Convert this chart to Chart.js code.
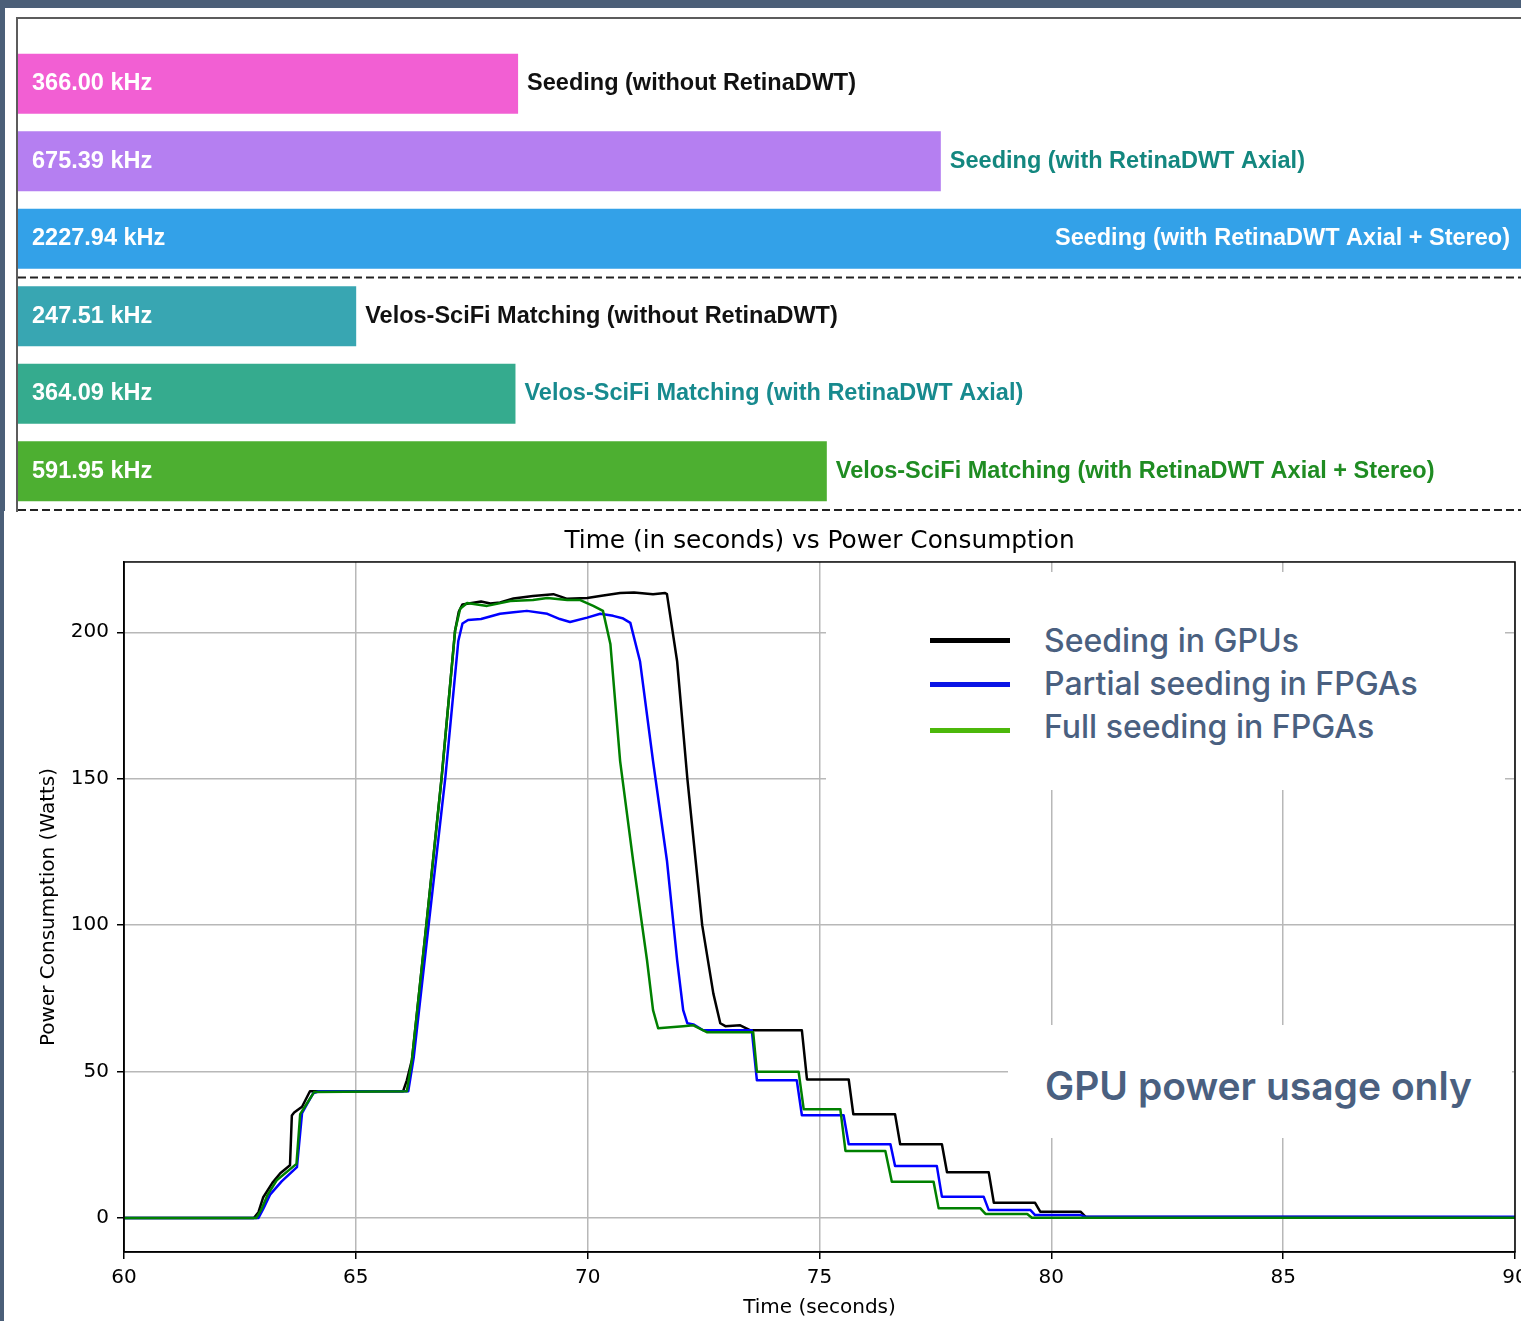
<!DOCTYPE html>
<html>
<head>
    <title>Seeding throughput and GPU power</title>
    <script src="https://cdn.jsdelivr.net/npm/chart.js"></script>
    <style>
        body {
            margin: 0;
            width: 1521px;
            height: 1321px;
            background: #4b5f78;
            position: relative;
            overflow: hidden;
        }
        .panel {
            position: absolute;
            background: #ffffff;
        }
        #top-frame {
            position: absolute;
            left: 16px;
            top: 17px;
            width: 1505px;
            height: 495px;
            border-top: 2px solid #5c5c5c;
            border-left: 2px solid #5c5c5c;
            box-sizing: border-box;
        }
        #rates {
            position: absolute;
            left: 18px;
            top: 19px;
        }
        #power {
            position: absolute;
            left: 4px;
            top: 512px;
        }
        .cover {
            position: absolute;
            background: #ffffff;
            font-family: Inter, "Open Sans", sans-serif;
            color: #4a6080;
        }
        .swatch {
            position: absolute;
            left: 104px;
            width: 80px;
            height: 5px;
        }
        .entry {
            position: absolute;
            left: 218px;
            font-size: 32px;
            line-height: 32px;
            font-weight: 500;
            white-space: nowrap;
        }
        #note {
            position: absolute;
            left: 37px;
            top: 41px;
            font-size: 39px;
            line-height: 39px;
            font-weight: 600;
            white-space: nowrap;
        }
    </style>
</head>
<body>
    <div class="panel" style="left:5px; top:8px; width:1516px; height:504px;"></div>
    <div class="panel" style="left:4px; top:511px; width:1517px; height:810px;"></div>
    <div id="top-frame"></div>
    <canvas id="rates" width="1503" height="492"></canvas>
    <canvas id="power" width="1517" height="809"></canvas>

    <div class="cover" style="left:826px; top:572px; width:679px; height:218px;">
        <div class="swatch" style="top:66px; background:#000000;"></div>
        <div class="swatch" style="top:110px; background:#0a14e6;"></div>
        <div class="swatch" style="top:156px; background:#4cb80a;"></div>
        <div class="entry" style="top:53px;">Seeding in GPUs</div>
        <div class="entry" style="top:96px;">Partial seeding in FPGAs</div>
        <div class="entry" style="top:139px;">Full seeding in FPGAs</div>
    </div>
    <div class="cover" style="left:1008px; top:1025px; width:504px; height:113px;">
        <div id="note">GPU power usage only</div>
    </div>

    <script>
        // ---- top panel: event rate per configuration (kHz)
        const barLabels = [
            'Seeding (without RetinaDWT)',
            'Seeding (with RetinaDWT Axial)',
            'Seeding (with RetinaDWT Axial + Stereo)',
            'Velos-SciFi Matching (without RetinaDWT)',
            'Velos-SciFi Matching (with RetinaDWT Axial)',
            'Velos-SciFi Matching (with RetinaDWT Axial + Stereo)'
        ];
        const barValues = [366.00, 675.39, 2227.94, 247.51, 364.09, 591.95];
        const barColors = ['#f25fd3', '#b57ff1', '#33a1e8', '#38a6b2', '#35ab8e', '#4daf31'];
        const labelColors = ['#111111', '#13877f', '#ffffff', '#111111', '#178a8e', '#1f8c22'];
        const rateAxisMax = 1100;

        // ---- bottom panel: power traces [time s, watts]
        const gpuSeries = [
            [60, 0], [62.8, 0], [62.9, 2], [63.0, 7], [63.2, 12], [63.37, 15.3], [63.58, 18],
            [63.62, 35], [63.67, 36], [63.84, 38], [64.01, 43.3], [66.02, 43.3], [66.1, 47],
            [66.21, 54], [66.52, 100], [66.85, 150.4], [67.14, 200.5], [67.22, 207], [67.3, 209.5],
            [67.4, 209.7], [67.7, 210.5], [67.9, 209.8], [68.11, 210.2], [68.4, 211.5], [68.82, 212.4],
            [69.26, 213], [69.56, 211.4], [69.99, 211.7], [70.3, 212.5], [70.7, 213.4], [71.0, 213.6],
            [71.41, 213], [71.67, 213.4], [71.71, 213], [71.93, 190], [72.15, 150], [72.47, 100],
            [72.71, 76.7], [72.86, 66.5], [72.97, 65.5], [73.29, 65.8], [73.51, 64.1], [74.62, 64.1],
            [74.73, 47.3], [75.63, 47.3], [75.73, 35.4], [76.63, 35.4], [76.74, 25.2], [77.64, 25.2],
            [77.75, 15.6], [78.65, 15.6], [78.76, 5.2], [79.65, 5.2], [79.76, 2.15], [80.63, 2.15],
            [80.74, 0.4], [90, 0.3]
        ];
        const partialSeries = [
            [60, 0], [62.9, 0], [63.0, 3], [63.15, 8], [63.4, 12.5], [63.73, 17.4], [63.84, 35.8],
            [63.95, 39], [64.08, 42.6], [64.2, 43.3], [66.13, 43.3], [66.25, 55], [66.57, 100],
            [66.93, 150.4], [67.21, 197], [67.3, 203], [67.42, 204.2], [67.7, 204.5], [68.11, 206.3],
            [68.4, 206.8], [68.69, 207.3], [69.13, 206.3], [69.4, 204.5], [69.62, 203.5], [69.99, 205],
            [70.27, 206.3], [70.55, 205.6], [70.75, 204.8], [70.92, 203.2], [71.13, 190], [71.41, 156],
            [71.71, 122], [71.93, 88], [72.06, 71], [72.15, 66.5], [72.28, 66.1], [72.49, 64.1],
            [73.54, 64.1], [73.65, 47], [74.51, 47], [74.62, 35.1], [75.52, 35.1], [75.63, 25.2],
            [76.53, 25.2], [76.63, 17.8], [77.53, 17.8], [77.64, 7.3], [78.54, 7.3], [78.65, 2.7],
            [79.55, 2.7], [79.65, 1.0], [80.63, 1.0], [80.74, 0.4], [90, 0.4]
        ];
        const fullSeries = [
            [60, 0], [62.85, 0], [62.95, 2.5], [63.1, 8], [63.3, 13], [63.72, 18.5], [63.8, 35.5],
            [63.9, 38], [64.1, 43], [66.1, 43.3], [66.21, 54], [66.52, 100], [66.85, 150.4],
            [67.14, 200.5], [67.25, 208], [67.4, 210], [67.83, 209], [68.33, 210.7], [68.82, 211],
            [69.13, 211.7], [69.56, 211], [69.84, 211], [70.12, 209], [70.33, 207.3], [70.49, 196],
            [70.7, 156], [70.98, 122], [71.28, 88], [71.41, 71], [71.52, 64.8], [72.06, 65.5],
            [72.28, 65.8], [72.58, 63.4], [73.57, 63.4], [73.65, 49.9], [74.55, 49.9], [74.66, 37.1],
            [75.45, 37.1], [75.56, 22.9], [76.42, 22.9], [76.56, 12.4], [77.46, 12.4], [77.57, 3.3],
            [78.47, 3.3], [78.58, 1.4], [79.48, 1.4], [79.58, 0.1], [90, 0.1]
        ];
        const seriesNames = ['Seeding in GPUs', 'Partial seeding in FPGAs', 'Full seeding in FPGAs'];
        const timeTicks = [60, 65, 70, 75, 80, 85, 90];
        const powerTicks = [0, 50, 100, 150, 200];

        const barFont = 'bold 23.5px "Liberation Sans", Arial, sans-serif';
        const axisFont = { family: '"DejaVu Sans", sans-serif', size: 20 };

        // value text inside each bar, name after it, dashed group separators
        const barTextPlugin = {
            id: 'barText',
            afterDatasetsDraw(chart) {
                const ctx = chart.ctx;
                const area = chart.chartArea;
                const bars = chart.getDatasetMeta(0).data;
                ctx.save();
                ctx.font = barFont;
                ctx.textBaseline = 'middle';
                bars.forEach(function (bar, i) {
                    ctx.textAlign = 'left';
                    ctx.fillStyle = '#ffffff';
                    ctx.fillText(barValues[i].toFixed(2) + ' kHz', area.left + 14, bar.y);
                    const end = Math.min(bar.x, area.right);
                    const w = ctx.measureText(barLabels[i]).width;
                    if (end + 9 + w > area.right - 8) {
                        ctx.textAlign = 'right';
                        ctx.fillStyle = labelColors[i];
                        ctx.fillText(barLabels[i], area.right - 11, bar.y);
                    } else {
                        ctx.fillStyle = labelColors[i];
                        ctx.fillText(barLabels[i], end + 9, bar.y);
                    }
                });
                const step = bars[1].y - bars[0].y;
                const breaks = [(bars[2].y + bars[3].y) / 2, bars[5].y + step / 2];
                ctx.setLineDash([8, 4]);
                ctx.lineWidth = 2.2;
                ctx.strokeStyle = '#222222';
                breaks.forEach(function (y) {
                    ctx.beginPath();
                    ctx.moveTo(area.left, y);
                    ctx.lineTo(chart.width, y);
                    ctx.stroke();
                });
                ctx.restore();
            }
        };

        new Chart(document.getElementById('rates').getContext('2d'), {
            type: 'bar',
            data: {
                labels: barLabels,
                datasets: [{
                    data: barValues,
                    backgroundColor: barColors,
                    borderWidth: 0,
                    barPercentage: 1,
                    categoryPercentage: 0.774
                }]
            },
            options: {
                indexAxis: 'y',
                responsive: false,
                animation: false,
                layout: { padding: { top: 26, bottom: 1, left: 0, right: 0 } },
                plugins: { legend: { display: false }, tooltip: { enabled: false } },
                scales: {
                    x: { display: false, min: 0, max: rateAxisMax },
                    y: { display: false }
                }
            },
            plugins: [barTextPlugin]
        });

        // full box round the plot, like matplotlib spines
        const spinePlugin = {
            id: 'spines',
            afterDraw(chart) {
                const a = chart.chartArea;
                const ctx = chart.ctx;
                ctx.save();
                ctx.strokeStyle = '#000000';
                ctx.lineWidth = 1.5;
                ctx.strokeRect(a.left, a.top, a.right - a.left, a.bottom - a.top);
                ctx.restore();
            }
        };

        function toPoints(series) {
            return series.map(function (p) { return { x: p[0], y: p[1] }; });
        }

        new Chart(document.getElementById('power').getContext('2d'), {
            type: 'line',
            data: {
                datasets: [
                    { label: seriesNames[0], data: toPoints(gpuSeries), borderColor: '#000000', order: 3 },
                    { label: seriesNames[1], data: toPoints(partialSeries), borderColor: '#0000ff', order: 2 },
                    { label: seriesNames[2], data: toPoints(fullSeries), borderColor: '#008000', order: 1 }
                ]
            },
            options: {
                responsive: false,
                animation: false,
                layout: { padding: { top: 0, bottom: 0, left: 0, right: 6 } },
                elements: {
                    line: { borderWidth: 2.5, tension: 0, borderJoinStyle: 'round', borderCapStyle: 'round' },
                    point: { radius: 0 }
                },
                plugins: {
                    legend: { display: false },
                    tooltip: { enabled: false },
                    title: {
                        display: true,
                        fullSize: false,
                        text: 'Time (in seconds) vs Power Consumption',
                        color: '#000000',
                        font: { family: '"DejaVu Sans", sans-serif', size: 24.8, weight: 'normal', lineHeight: 1.2 },
                        padding: { top: 15, bottom: 5.2 }
                    }
                },
                scales: {
                    x: {
                        type: 'linear',
                        min: 60,
                        max: 90,
                        afterBuildTicks: function (s) { s.ticks = timeTicks.map(function (v) { return { value: v }; }); },
                        afterFit: function (s) { s.height = 69; s.paddingLeft = 0; s.paddingRight = 0; },
                        ticks: { color: '#000000', font: axisFont, padding: 7, maxRotation: 0 },
                        grid: { color: '#b8b8b8', lineWidth: 1.5, tickColor: '#000000', tickLength: 7, tickWidth: 1.5 },
                        border: { color: '#000000', width: 1.5 },
                        title: { display: true, text: 'Time (seconds)', color: '#000000', font: axisFont, padding: { top: 0, bottom: 1 } }
                    },
                    y: {
                        min: -11.6,
                        max: 224,
                        afterBuildTicks: function (s) { s.ticks = powerTicks.map(function (v) { return { value: v }; }); },
                        afterFit: function (s) { s.width = 120; s.paddingTop = 0; s.paddingBottom = 0; },
                        ticks: { color: '#000000', font: axisFont, padding: 8 },
                        grid: { color: '#b8b8b8', lineWidth: 1.5, tickColor: '#000000', tickLength: 7, tickWidth: 1.5 },
                        border: { color: '#000000', width: 1.5 },
                        title: { display: true, text: 'Power Consumption (Watts)', color: '#000000', font: axisFont, padding: { top: 33, bottom: 0 } }
                    }
                }
            },
            plugins: [spinePlugin]
        });
    </script>
</body>
</html>
